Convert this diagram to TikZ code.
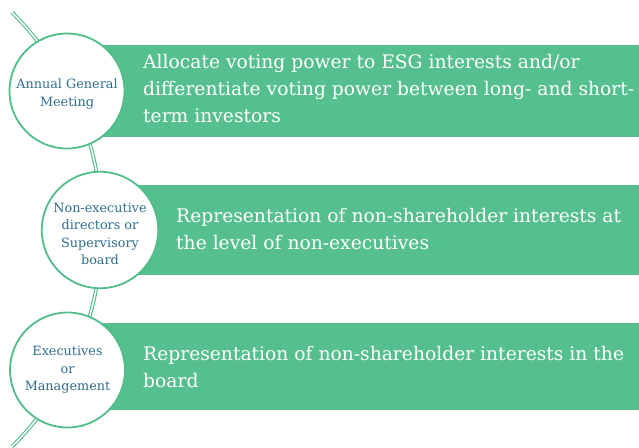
\documentclass[tikz,border=0pt]{standalone}
\usepackage{fontspec}
\setmainfont{DejaVu Serif}
\definecolor{boxgreen}{HTML}{55BF8E}
\definecolor{ringgreen}{HTML}{52BD8B}
\definecolor{lblue}{HTML}{2D6E8E}
\begin{document}
\begin{tikzpicture}[x=1pt,y=-1pt,
  band/.style={fill=boxgreen, draw=none, rectangle, inner sep=0pt},
  ring/.style={circle, draw=ringgreen, line width=1.8pt, fill=white, minimum size=115pt, inner sep=0pt, text=lblue, align=center, font=\fontsize{12.8}{17.5}\selectfont},
  bandtext/.style={anchor=west, text=white, align=left, inner sep=0pt, font=\fontsize{18.7}{27}\selectfont},
  spine/.style={draw=ringgreen, line width=1.1pt, double=white, double distance=1.5pt}
]
\useasboundingbox (0,0) rectangle (639,447);
% background spine
\coordinate (sC) at (-205,229.5);
\draw[spine] (sC) ++(45:307pt) coordinate (sTop) arc[start angle=45, end angle=-45, radius=307pt] coordinate (sBot);
% bands
\node[band, minimum width=539pt, minimum height=92pt, anchor=west] (b1) at (100,91) {};
\node[band, minimum width=503pt, minimum height=90pt, anchor=west] (b2) at (136,230) {};
\node[band, minimum width=539pt, minimum height=87pt, anchor=west] (b3) at (100,366.5) {};
% circles
\node[ring] (c1) at (67,91) {\raisebox{-3pt}[\height][\depth]{\begin{tabular}{@{}c@{}}Annual General\\Meeting\end{tabular}}};
\node[ring] (c2) at (100,230) {\raisebox{-5pt}[\height][\depth]{\begin{tabular}{@{}c@{}}Non-executive\\directors or\\Supervisory\\board\end{tabular}}};
\node[ring] (c3) at (67.5,370) {Executives\\or\\Management};
% texts
\node[bandtext] (t1) at (143,89) {Allocate voting power to ESG interests and/or\\differentiate voting power between long- and short-\\term investors};
\node[bandtext] (t2) at (176,229) {Representation of non-shareholder interests at\\the level of non-executives};
\node[bandtext] (t3) at (143,367) {Representation of non-shareholder interests in the\\board};
\end{tikzpicture}
\end{document}
